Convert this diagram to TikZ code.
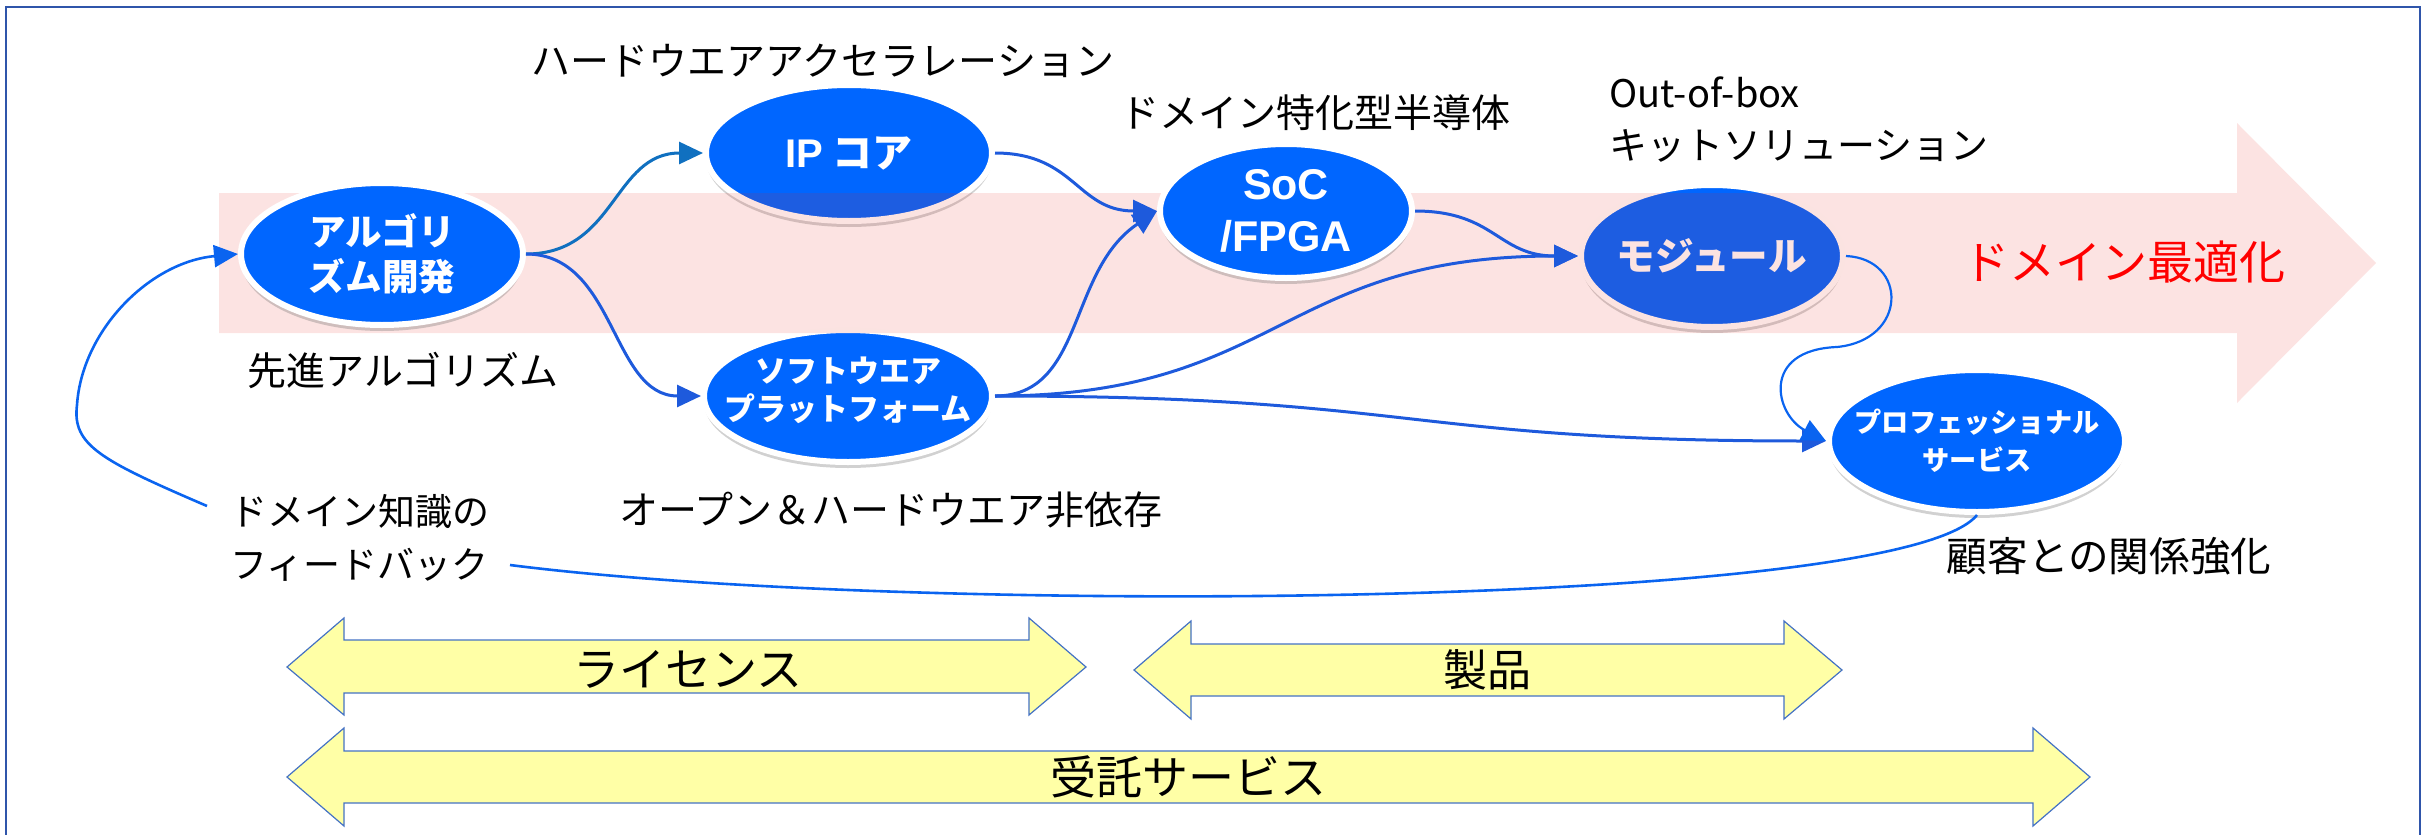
\documentclass[tikz,border=0pt]{standalone}
\usepackage{fontspec}
\setmainfont{Noto Sans CJK JP}
\newfontfamily\latf{Liberation Sans}
\usetikzlibrary{shapes.geometric,arrows.meta,shadows}
\definecolor{nblue}{RGB}{0,102,255}
\definecolor{cblue}{RGB}{30,90,220}
\definecolor{tblue}{RGB}{16,112,192}
\definecolor{fblue}{RGB}{10,100,240}
\definecolor{pinkc}{RGB}{230,40,30}
\definecolor{yel}{RGB}{255,255,166}
\definecolor{yedge}{RGB}{68,114,196}
\definecolor{framec}{RGB}{47,85,170}
\begin{document}
\begin{tikzpicture}[x=0.5pt,y=-0.5pt,
  bnode/.style={ellipse, fill=nblue, draw=white, line width=3pt, inner sep=0pt,
    drop shadow={shadow xshift=0pt,shadow yshift=-3pt,opacity=0.3,fill=black!60}},
  ntext/.style={text=white, align=center, inner sep=0pt},
  lab/.style={inner sep=0pt, font=\fontsize{19.5}{26}\selectfont},
  conn/.style={draw=cblue, line width=1.5pt, -{Triangle[length=12pt,width=11pt]}},
  fbline/.style={draw=fblue, line width=1.3pt},
  yarrow/.style={fill=yel, draw=yedge, line width=0.6pt},
  ylab/.style={inner sep=0pt, font=\fontsize{23}{26}\selectfont}]
\useasboundingbox (0,0) rectangle (2427,835);
\draw[framec, line width=0.9pt] (6,7) rectangle (2420,850);

% nodes lying under the band
\node[bnode, minimum width=143pt, minimum height=68pt,
  label={[ntext, font=\bfseries\fontsize{20}{24}\selectfont]center:{{\latf IP} コア}}] (ip) at (849,153) {};
\node[bnode, minimum width=144pt, minimum height=66pt,
  label={[ntext, yshift=3pt, font=\bfseries\fontsize{15.5}{19}\selectfont]center:{ソフトウエア\\プラットフォーム}}] (soft) at (848,396) {};
\node[bnode, minimum width=131pt, minimum height=71pt,
  label={[ntext, font=\bfseries\fontsize{19.3}{24}\selectfont]center:{モジュール}}] (mod) at (1712,256) {};

% pink band arrow
\fill[pinkc, opacity=0.13] (219,193) -- (2237,193) -- (2237,123) -- (2376,263) -- (2237,403) -- (2237,333) -- (219,333) -- cycle;

% nodes above the band
\node[bnode, minimum width=141pt, minimum height=71pt,
  label={[ntext, font=\bfseries\fontsize{18.3}{22.5}\selectfont]center:{アルゴリ\\ズム開発}}] (alg) at (382,254) {};
\node[bnode, minimum width=126pt, minimum height=67pt,
  label={[ntext, font=\latf\bfseries\fontsize{21.5}{26}\selectfont]center:{SoC\\/FPGA}}] (soc) at (1286,211) {};
\node[bnode, minimum width=148pt, minimum height=71pt,
  label={[ntext, font=\bfseries\fontsize{13.6}{19}\selectfont]center:{プロフェッショナル\\サービス}}] (prof) at (1977,441) {};

% connectors
\draw[conn, draw=tblue] (alg.east) .. controls +(90,0) and +(-90,0) .. (ip.west);
\draw[conn] (alg.east) .. controls +(90,0) and +(-90,0) .. (soft.west);
\draw[conn] (ip.east) .. controls +(80,0) and +(-80,0) .. (soc.west);
\draw[conn] (soft.east) .. controls +(90,0) and +(-90,60) .. (soc.west);
\draw[conn] (soft.east) .. controls +(285,0) and +(-298,0) .. (mod.west);
\draw[conn] (soc.east) .. controls +(80,0) and +(-80,0) .. (mod.west);
\draw[conn] (soft.east) .. controls +(420,0) and +(-420,0) .. (prof.west);
\draw[conn, draw=fblue, line width=1.1pt] (mod.east) .. controls +(62,3) and (1908,340) .. (1837,347)
   .. controls (1760,350) and (1775,415) .. (prof.west);

% feedback
\coordinate (fbR) at (510,565);
\coordinate (fbL) at (207,506);
\draw[fbline] (prof.south) .. controls (1900,610) and (900,615) .. (fbR);
\draw[fbline, -{Triangle[length=12pt,width=11pt]}] (fbL) .. controls (100,460) and (72,445) .. (77,405)
   .. controls (82,330) and (150,262) .. (alg.west);

% labels
\node[lab] (t1) at (823,61) {ハードウエアアクセラレーション};
\node[lab] (t2) at (1315,113) {ドメイン特化型半導体};
\node[lab, anchor=west, align=left, font=\fontsize{19}{26}\selectfont] (t3) at (1609,120) {Out-of-box\\キットソリューション};
\node[lab] (t4) at (403,371) {先進アルゴリズム};
\node[lab] (t5) at (891,510) {オープン＆ハードウエア非依存};
\node[lab, anchor=west, align=left, font=\fontsize{18.5}{26.5}\selectfont] (fb) at (230,538) {ドメイン知識の\\フィードバック};
\node[lab, font=\fontsize{20.3}{26}\selectfont] (t6) at (2109,556) {顧客との関係強化};
\node[lab, text=red, font=\fontsize{23}{26}\selectfont] (t7) at (2124,262) {ドメイン最適化};

% yellow double arrows
\draw[yarrow] (287,667) -- (344,618) -- (344,640) -- (1029,640) -- (1029,618) -- (1086,667)
  -- (1029,715) -- (1029,693) -- (344,693) -- (344,715) -- cycle;
\draw[yarrow] (1134,670) -- (1191,621) -- (1191,644) -- (1784,644) -- (1784,621) -- (1842,670)
  -- (1784,719) -- (1784,696) -- (1191,696) -- (1191,719) -- cycle;
\draw[yarrow] (287,777) -- (344,728) -- (344,751) -- (2033,751) -- (2033,728) -- (2090,777)
  -- (2033,826) -- (2033,803) -- (344,803) -- (344,826) -- cycle;
\node[ylab] (lic) at (688,669) {ライセンス};
\node[ylab, font=\fontsize{22}{26}\selectfont] (prd) at (1487,670) {製品};
\node[ylab] (svc) at (1188,777) {受託サービス};
\end{tikzpicture}
\end{document}
